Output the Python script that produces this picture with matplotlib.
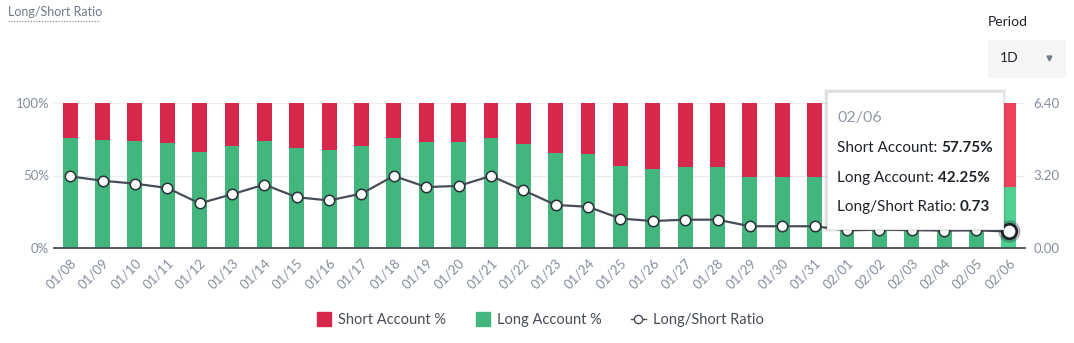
# Long/Short account ratio chart: stacked long/short % bars with ratio line.

import numpy as np
import matplotlib
matplotlib.use("Agg")
import matplotlib.pyplot as plt
from matplotlib.lines import Line2D
from matplotlib.patches import FancyBboxPatch
from matplotlib.text import Annotation

DATES = ["01/08", "01/09", "01/10", "01/11", "01/12", "01/13", "01/14", "01/15",
         "01/16", "01/17", "01/18", "01/19", "01/20", "01/21", "01/22", "01/23",
         "01/24", "01/25", "01/26", "01/27", "01/28", "01/29", "01/30", "01/31",
         "02/01", "02/02", "02/03", "02/04", "02/05", "02/06"]
LONG_PCT = [75.96, 74.81, 73.96, 72.60, 66.33, 70.33, 73.68, 69.14, 67.74, 70.59,
            76.08, 72.90, 73.26, 76.08, 71.83, 65.52, 64.54, 56.52, 54.34, 55.56,
            55.56, 48.98, 48.98, 48.98, 43.82, 44.75, 44.13, 43.50, 43.82, 42.25]
RATIO = [3.16, 2.97, 2.84, 2.65, 1.97, 2.37, 2.80, 2.24, 2.10, 2.40,
         3.18, 2.69, 2.74, 3.18, 2.55, 1.90, 1.82, 1.30, 1.19, 1.25,
         1.25, 0.96, 0.96, 0.96, 0.78, 0.81, 0.79, 0.77, 0.78, 0.73]
PCT_TICKS = [0, 50, 100]
PCT_LABELS = ["0%", "50%", "100%"]
RATIO_TICKS = [0, 3.2, 6.4]
RATIO_LABELS = ["0.00", "3.20", "6.40"]

RED = "#D6284A"
GREEN = "#42B67D"
RED_HOVER = "#F0415C"
GREEN_HOVER = "#50D192"
LINE = "#474D57"
MUTED = "#848E9C"
W, H = 1074, 343


def fx(px):
    return px / W


def fy(py):
    return 1 - py / H


def main():
    plt.rcParams["font.family"] = ["Lato", "DejaVu Sans"]
    long_pct = np.array(LONG_PCT)
    short_pct = 100 - long_pct
    x = np.arange(len(DATES))
    hover = len(DATES) - 1

    greens = [GREEN] * len(DATES)
    reds = [RED] * len(DATES)
    greens[hover] = GREEN_HOVER
    reds[hover] = RED_HOVER

    fig = plt.figure(figsize=(W / 100, H / 100), dpi=100)
    ax = fig.add_axes([fx(54), fy(248), fx(1025 - 54), 145 / H])
    ax.bar(x, long_pct, width=0.46, color=greens, zorder=2)
    ax.bar(x, short_pct, bottom=long_pct, width=0.46, color=reds, zorder=2)
    ax.set_xlim(-0.5, len(DATES) - 0.5)
    ax.set_ylim(0, 100)
    ax.set_yticks(PCT_TICKS, PCT_LABELS)
    ax.set_xticks(x, DATES, rotation=45, ha="right", rotation_mode="anchor")
    ax.tick_params(length=0, colors=MUTED, labelsize=9.5)
    ax.tick_params(axis="x", pad=6)
    for s in ["top", "left", "right"]:
        ax.spines[s].set_visible(False)
    ax.spines["bottom"].set_color(LINE)
    ax.spines["bottom"].set_linewidth(1.3)
    ax.spines["bottom"].set_zorder(3)
    for v in [50, 100]:
        ax.axhline(v, color="#EAECEF", linewidth=1, zorder=1)

    ax2 = ax.twinx()
    ax2.set_ylim(0, 6.4)
    ax2.set_yticks(RATIO_TICKS, RATIO_LABELS)
    ax2.tick_params(length=0, colors=MUTED, labelsize=9.5, pad=6)
    for s in ax2.spines.values():
        s.set_visible(False)
    ax2.plot(x, RATIO, color=LINE, linewidth=1.6, marker="o", markersize=7.5,
             markerfacecolor="white", markeredgecolor="#2B3139", markeredgewidth=1.1)
    ax2.scatter([x[hover]], [RATIO[hover]], s=230, color="#2B3139", alpha=0.25, zorder=4)
    ax2.scatter([x[hover]], [RATIO[hover]], s=110, facecolor="white",
                edgecolor="#1E2329", linewidth=2, zorder=5)

    # title with dotted underline
    fig.text(fx(8), fy(12), "Long/Short Ratio", fontsize=9, color="#707A8A", va="center")
    fig.add_artist(Line2D([fx(8), fx(100)], [fy(21), fy(21)], color="#707A8A",
                          linestyle=(0, (1, 1.5)), linewidth=0.8))

    # period selector
    fig.text(fx(988), fy(22), "Period", fontsize=10, color="#1E2329", va="center")
    fig.add_artist(FancyBboxPatch((fx(988), fy(78)), fx(78), 38 / H,
                                  boxstyle="round,pad=0,rounding_size=0.005",
                                  facecolor="#F5F5F5", edgecolor="none"))
    fig.text(fx(1000), fy(58), "1D", fontsize=10, color="#1E2329", va="center")
    fig.add_artist(Line2D([fx(1049)], [fy(58)], marker="v", markersize=3.5,
                          color="#707A8A", linestyle="none"))

    # tooltip
    for i, a in enumerate([0.05, 0.05, 0.06]):
        d = 3 - i
        fig.add_artist(FancyBboxPatch((fx(827 - d), fy(229 + d)), fx(176 + 2 * d),
                                      (137 + 2 * d) / H, boxstyle="square,pad=0",
                                      facecolor="black", alpha=a, edgecolor="none"))
    fig.add_artist(FancyBboxPatch((fx(827), fy(229)), fx(176), 137 / H,
                                  boxstyle="square,pad=0", facecolor="white",
                                  edgecolor="#E6E8EA", linewidth=0.8))
    fig.text(fx(837), fy(118), DATES[hover], fontsize=11.5, color="#929AA5", va="center")
    rows = [("Short Account: ", f"{short_pct[hover]:.2f}%", 148),
            ("Long Account: ", f"{long_pct[hover]:.2f}%", 178),
            ("Long/Short Ratio: ", f"{RATIO[hover]:.2f}", 207)]
    for label, value, py in rows:
        t = fig.text(fx(837), fy(py), label, fontsize=11, color="#1E2329", va="center")
        fig.add_artist(Annotation(value, xy=(1, 0.5), xycoords=t, va="center",
                                  ha="left", fontsize=11, fontweight="bold",
                                  color="#1E2329", zorder=5))

    handles = [
        Line2D([], [], marker="s", linestyle="none", markersize=10, color=RED),
        Line2D([], [], marker="s", linestyle="none", markersize=10, color=GREEN),
        Line2D([], [], color=LINE, linewidth=1, marker="o", markersize=6,
               markerfacecolor="white", markeredgecolor=LINE),
    ]
    fig.legend(handles, ["Short Account %", "Long Account %", "Long/Short Ratio"],
               loc="center", bbox_to_anchor=(fx(540), fy(320)), ncol=3,
               frameon=False, fontsize=10.5, handlelength=1.0, handletextpad=0.5,
               columnspacing=2.0, labelcolor="#474D57")

    fig.savefig("out.png", dpi=100)


if __name__ == "__main__":
    main()
